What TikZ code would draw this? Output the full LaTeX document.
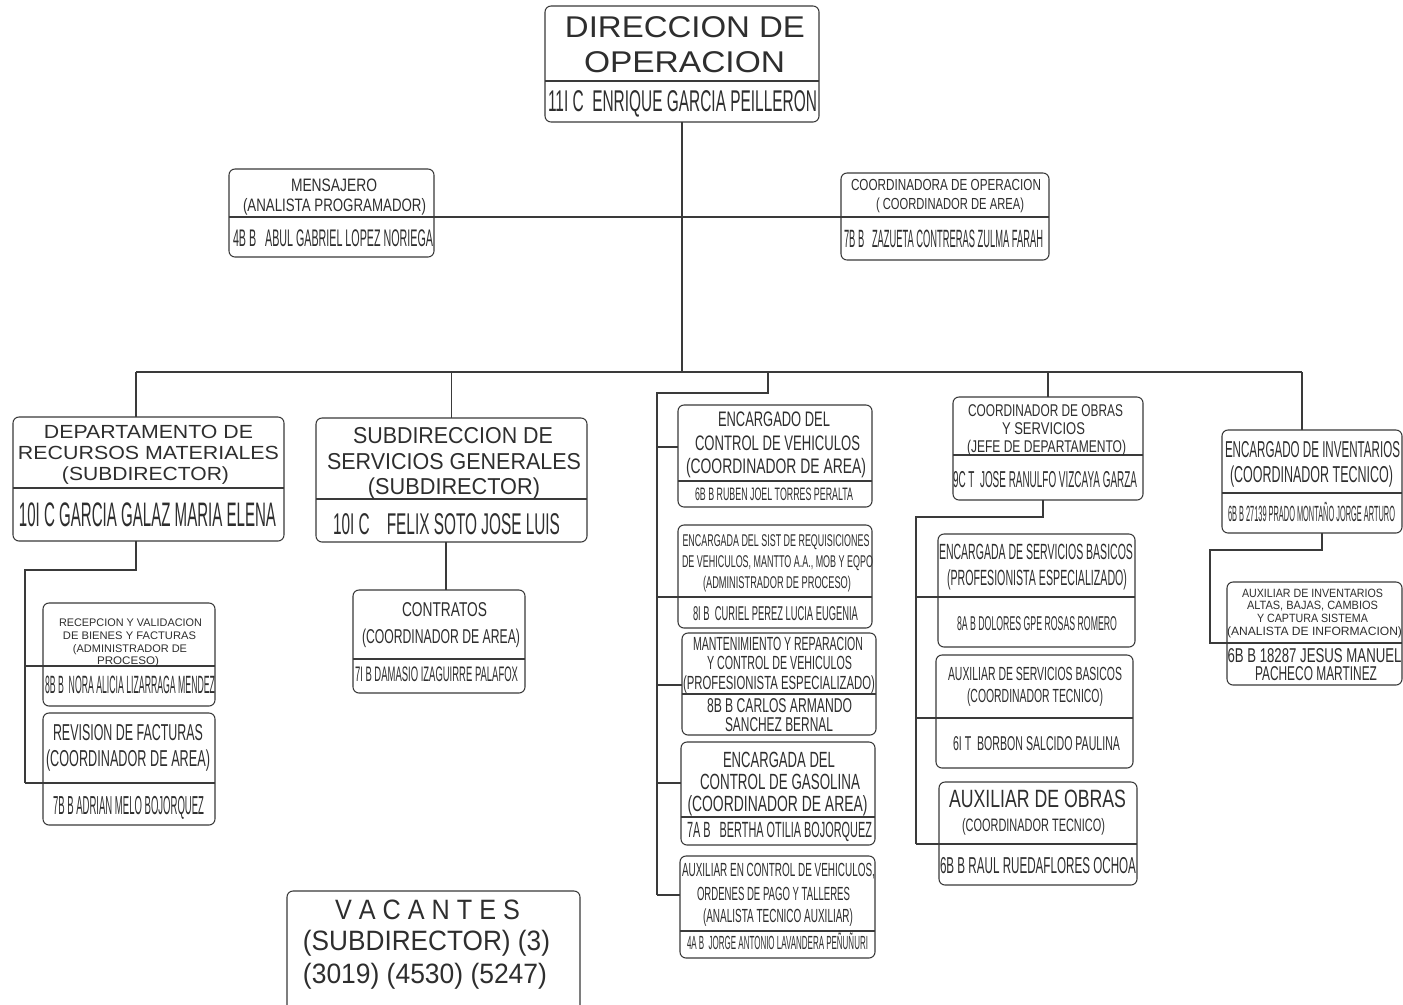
\documentclass[tikz,border=0pt]{standalone}
\usepackage{fontspec}
\setmainfont{Liberation Sans}
\usepackage{graphicx}
\definecolor{lc}{HTML}{3A3A3A}
\definecolor{tc}{HTML}{2E2E2E}
\newlength\pxu \setlength\pxu{0.75pt}
\newcommand\tline[3]{\resizebox{#2\pxu}{\height}{\fontsize{#1\pxu}{#1\pxu}\selectfont #3}}
\newcommand\otx[6]{\pgfmathsetmacro\tcap{#4*0.537}\node[txt, text height=\tcap pt] (#1) at (#2,#3) {\tline{#4}{#5}{#6}};}
\newcommand\orgbox[6]{%
  \node[obx, minimum width={(#4-#2)*0.75pt}, minimum height={(#5-#3)*0.75pt}, anchor=north west] (#1) at (#2,#3) {};
  \draw[ln] (#1.west |- 0,#6) -- (#1.east |- 0,#6);}
\tikzset{
  ln/.style={draw=lc, line width=0.8pt},
  obx/.style={draw=lc, line width=0.8pt, rounded corners=4.5pt, inner sep=0pt, outer sep=0pt, fill=none},
  txt/.style={inner sep=0pt, outer sep=0pt, text depth=0pt, text=tc, anchor=center},
}
\begin{document}
\begin{tikzpicture}[x=0.75pt,y=-0.75pt]
\useasboundingbox[fill=white] (0,0) rectangle (1403,1004);

% ---------- boxes ----------
\orgbox{dir}{545}{6}{819}{122}{81}
\orgbox{mens}{229}{169}{434}{257}{217}
\orgbox{coord}{841}{173}{1049}{260}{217}
\orgbox{dept}{13}{417}{284}{541}{488}
\orgbox{subdir}{316}{418}{587}{542}{499}
\orgbox{contr}{353}{590}{525}{693}{659}
\orgbox{ra}{43}{603}{215}{706}{666}
\orgbox{rb}{43}{713}{215}{825}{783}
\orgbox{va}{678}{405}{872}{507}{481}
\orgbox{vb}{678}{525}{872}{628}{597}
\orgbox{vc}{682}{633}{876}{735}{694}
\orgbox{vd}{681}{742}{875}{845}{817}
\orgbox{ve}{680}{856}{875}{958}{931}
\orgbox{cobras}{953}{397}{1143}{500}{455}
\orgbox{sa}{938}{534}{1135}{647}{597}
\orgbox{sb}{936}{655}{1133}{768}{718}
\orgbox{sc}{939}{782}{1137}{885}{844}
\orgbox{encinv}{1222}{430}{1402}{533}{493}
\orgbox{ax}{1227}{582}{1402}{685}{643}
\draw[ln, rounded corners=4.5pt] (287,1008) -- (287,891) -- (580,891) -- (580,1008);

% ---------- connector coordinates ----------
\coordinate (bus1) at (136,372);
\coordinate (bus2) at (1302,372);
\coordinate (vj) at (768,372);
\coordinate (vc0) at (657,393);
\coordinate (vcb) at (657,895);
\coordinate (dj) at (136,570);
\coordinate (dc) at (25,570);
\coordinate (dcb) at (25,783);
\coordinate (sx) at (446,0);
\coordinate (cj) at (1043,517);
\coordinate (cc) at (916,517);
\coordinate (ccb) at (916,844);
\coordinate (ej) at (1322,550);
\coordinate (ec) at (1210,550);
\coordinate (ecb) at (1210,643);

% ---------- connectors ----------
\draw[ln] (dir.south) -- (dir.south |- bus1);
\draw[ln] (mens.east |- 0,217) -- (coord.west |- 0,217);
\draw[ln] (bus1) -- (bus2);
\draw[ln] (bus1) -- (bus1 |- dept.north);
\draw[ln] (subdir.north |- bus1) -- (subdir.north);
\draw[ln] (vj) |- (vc0) -- (vcb);
\draw[ln] (vc0 |- 0,447) -- (va.west |- 0,447);
\draw[ln] (vc0 |- 0,597) -- (vb.west |- 0,597);
\draw[ln] (vc0 |- 0,685) -- (vc.west |- 0,685);
\draw[ln] (vc0 |- 0,783) -- (vd.west |- 0,783);
\draw[ln] (vcb) -- (ve.west |- vcb);
\draw[ln] (cobras.north |- bus1) -- (cobras.north);
\draw[ln] (bus2) -- (bus2 |- encinv.north);
\draw[ln] (dept.south -| bus1) -- (dj) -- (dc) -- (dcb);
\draw[ln] (dc |- 0,666) -- (ra.west |- 0,666);
\draw[ln] (dcb) -- (rb.west |- dcb);
\draw[ln] (subdir.south -| sx) -- (contr.north -| sx);
\draw[ln] (cobras.south -| cj) -- (cj) -- (cc) -- (ccb);
\draw[ln] (cc |- 0,597) -- (sa.west |- 0,597);
\draw[ln] (cc |- 0,718) -- (sb.west |- 0,718);
\draw[ln] (ccb) -- (sc.west |- ccb);
\draw[ln] (encinv.south -| ej) -- (ej) -- (ec) -- (ecb) -- (ax.west |- ecb);

% ---------- texts ----------
\otx{dirA}{685}{26.5}{30}{240}{DIRECCION DE}
\otx{dirB}{684.5}{61.5}{30}{201}{OPERACION}
\otx{dirC}{682.5}{101}{30}{269}{11I C\ \ ENRIQUE GARCIA PEILLERON}

\otx{mensA}{334}{185}{18}{86}{MENSAJERO}
\otx{mensB}{334.5}{205}{18}{183}{(ANALISTA PROGRAMADOR)}
\otx{mensC}{333}{237.5}{24}{200}{4B B\ \ \ ABUL GABRIEL LOPEZ NORIEGA}

\otx{coA}{946}{185}{16}{190}{COORDINADORA DE OPERACION}
\otx{coB}{950}{203.5}{16}{148}{( COORDINADOR DE AREA)}
\otx{coC}{943.5}{239}{25}{199}{7B B\ \ \ ZAZUETA CONTRERAS ZULMA FARAH}

\otx{deA}{148.5}{431.5}{19}{209}{DEPARTAMENTO DE}
\otx{deB}{148.5}{453}{19}{261}{RECURSOS MATERIALES}
\otx{deC}{145.5}{474}{19}{167}{(SUBDIRECTOR)}
\otx{deD}{147.5}{514.5}{34}{257}{10I C GARCIA GALAZ MARIA ELENA}

\otx{suA}{453}{435}{23}{200}{SUBDIRECCION DE}
\otx{suB}{454}{461}{23}{254}{SERVICIOS GENERALES}
\otx{suC}{454}{486.5}{23}{172}{(SUBDIRECTOR)}
\otx{suD}{446.5}{524}{30}{227}{10I C\ \ \ \ FELIX SOTO JOSE LUIS}

\otx{ctA}{444.5}{609.5}{20}{85}{CONTRATOS}
\otx{ctB}{441}{636}{20}{158}{(COORDINADOR DE AREA)}
\otx{ctC}{436.5}{674}{21}{163}{7I B DAMASIO IZAGUIRRE PALAFOX}

\otx{raA}{130.5}{623}{11}{143}{RECEPCION Y VALIDACION}
\otx{raB}{129.5}{636}{11}{133}{DE BIENES Y FACTURAS}
\otx{raC}{130}{649}{11}{114}{(ADMINISTRADOR DE}
\otx{raD}{128}{661}{11}{62}{PROCESO)}
\otx{raE}{130}{685}{25}{170}{8B B\ \ NORA ALICIA LIZARRAGA MENDEZ}

\otx{rbA}{128}{732}{23}{150}{REVISION DE FACTURAS}
\otx{rbB}{128}{758}{23}{164}{(COORDINADOR DE AREA)}
\otx{rbC}{128.5}{805}{26}{151}{7B B ADRIAN MELO BOJORQUEZ}

\otx{vaA}{774}{419}{21}{112}{ENCARGADO DEL}
\otx{vaB}{777.5}{443}{21}{165}{CONTROL DE VEHICULOS}
\otx{vaC}{776}{466}{21}{180}{(COORDINADOR DE AREA)}
\otx{vaD}{774}{494}{18}{158}{6B B RUBEN JOEL TORRES PERALTA}

\otx{vbA}{776}{540}{17}{187}{ENCARGADA DEL SIST DE REQUISICIONES}
\otx{vbB}{777.5}{561}{17}{191}{DE VEHICULOS, MANTTO A.A., MOB Y EQPO}
\otx{vbC}{777}{582}{17}{148}{(ADMINISTRADOR DE PROCESO)}
\otx{vbD}{775.5}{613}{20}{165}{8I B\ \ CURIEL PEREZ LUCIA EUGENIA}

\otx{vcA}{778}{644}{19}{170}{MANTENIMIENTO Y REPARACION}
\otx{vcB}{779.5}{663}{19}{145}{Y CONTROL DE VEHICULOS}
\otx{vcC}{779}{683}{19}{192}{(PROFESIONISTA ESPECIALIZADO)}
\otx{vcD}{779.5}{705}{20}{145}{8B B CARLOS ARMANDO}
\otx{vcE}{779}{724.5}{20}{108}{SANCHEZ BERNAL}

\otx{vdA}{779}{760}{22}{112}{ENCARGADA DEL}
\otx{vdB}{780}{781.5}{22}{160}{CONTROL DE GASOLINA}
\otx{vdC}{777.5}{804}{22}{180}{(COORDINADOR DE AREA)}
\otx{vdD}{779.5}{830}{22}{185}{7A B\ \ \ BERTHA OTILIA BOJORQUEZ}

\otx{veA}{778.5}{870}{19}{193}{AUXILIAR EN CONTROL DE VEHICULOS,}
\otx{veB}{773.5}{893.5}{19}{153}{ORDENES DE PAGO Y TALLERES}
\otx{veC}{778}{916}{19}{150}{(ANALISTA TECNICO AUXILIAR)}
\otx{veD}{777.5}{943}{19}{181}{4A B\ \ JORGE ANTONIO LAVANDERA PEÑUÑURI}

\otx{cbA}{1045.5}{410}{17}{155}{COORDINADOR DE OBRAS}
\otx{cbB}{1043.5}{428.5}{17}{83}{Y SERVICIOS}
\otx{cbC}{1046.5}{446}{17}{159}{(JEFE DE DEPARTAMENTO)}
\otx{cbD}{1045}{479}{23}{184}{9C T\ \ JOSE RANULFO VIZCAYA GARZA}

\otx{saA}{1036}{552}{22}{194}{ENCARGADA DE SERVICIOS BASICOS}
\otx{saB}{1037}{577.5}{22}{180}{(PROFESIONISTA ESPECIALIZADO)}
\otx{saC}{1037}{623}{20}{160}{8A B DOLORES GPE ROSAS ROMERO}

\otx{sbA}{1035}{673.5}{19}{174}{AUXILIAR DE SERVICIOS BASICOS}
\otx{sbB}{1035}{696}{19}{136}{(COORDINADOR TECNICO)}
\otx{sbC}{1036.5}{743}{20}{167}{6I T\ \ BORBON SALCIDO PAULINA}

\otx{scA}{1037.5}{798.5}{25}{177}{AUXILIAR DE OBRAS}
\otx{scB}{1033.5}{825}{18}{143}{(COORDINADOR TECNICO)}
\otx{scC}{1038}{865}{23}{196}{6B B RAUL RUEDAFLORES OCHOA}

\otx{eiA}{1312.5}{449.5}{23}{175}{ENCARGADO DE INVENTARIOS}
\otx{eiB}{1311.5}{474.5}{23}{163}{(COORDINADOR TECNICO)}
\otx{eiC}{1311.5}{514}{22}{167}{6B B 27139 PRADO MONTAÑO JORGE ARTURO}

\otx{axA}{1312.5}{593}{12}{141}{AUXILIAR DE INVENTARIOS}
\otx{axB}{1312.5}{605.5}{12}{131}{ALTAS, BAJAS, CAMBIOS}
\otx{axC}{1312.5}{618}{12}{111}{Y CAPTURA SISTEMA}
\otx{axD}{1314.5}{631}{12}{175}{(ANALISTA DE INFORMACION)}
\otx{axE}{1314.5}{655}{20}{174}{6B B 18287 JESUS MANUEL}
\otx{axF}{1316}{673.5}{20}{122}{PACHECO MARTINEZ}

\otx{vacA}{427.5}{909.5}{28}{185}{V A C A N T E S}
\otx{vacB}{426.5}{940}{28}{247}{(SUBDIRECTOR) (3)}
\otx{vacC}{425}{973}{28}{244}{(3019) (4530) (5247)}
\end{tikzpicture}
\end{document}
